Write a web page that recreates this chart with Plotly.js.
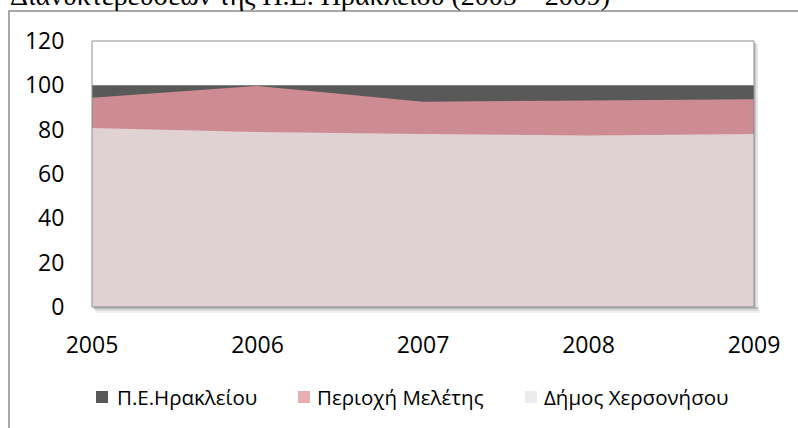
<!DOCTYPE html>
<html>
<head>
<meta charset="utf-8">
<script src="https://cdn.plot.ly/plotly-3.0.1.min.js"></script>
<style>html,body{margin:0;padding:0;background:#fff;}#chart{width:798px;height:428px;}</style>
</head>
<body>
<div id="chart"></div>
<script>
const years = [2005, 2006, 2007, 2008, 2009];
const peHrakleiou = [100, 100, 100, 100, 100];
const perioxiMeletis = [94.4, 99.7, 92.6, 93.2, 93.7];
const dimosXersonisou = [80.7, 78.9, 78.0, 77.4, 78.0];
const seriesNames = ['Π.Ε.Ηρακλείου', 'Περιοχή Μελέτης', 'Δήμος Χερσονήσου'];
const areaColors = ['#595959', '#cc8c92', '#e0d1d2'];
const legendColors = ['#595959', '#e6adb3', '#ececec'];
const yTicks = [0, 20, 40, 60, 80, 100, 120];
const titleText = 'Διανυκτερεύσεων της Π.Ε. Ηρακλείου (2005 – 2009)';

const seriesValues = [peHrakleiou, perioxiMeletis, dimosXersonisou];
const traces = [];
seriesValues.forEach((vals, i) => {
  traces.push({
    x: years, y: vals, type: 'scatter', mode: 'none', name: seriesNames[i],
    fill: 'tozeroy', fillcolor: areaColors[i],
    showlegend: false, hoverinfo: 'skip'
  });
});

const font = "'Open Sans', 'Noto Sans', sans-serif";
const L = 92, T = 41, W = 662, H = 266;
const px = v => (v - L) / W;          // absolute pixel x -> paper
const py = v => (T + H - v) / H;      // absolute pixel y -> paper
const dx = v => v / W, dy = v => v / H;

// custom legend placement (square left edges and text left edges, in px)
const legSquareX = [96, 298, 525];
const legTextX = [116, 316, 543];
const legY = 397;

const shapes = [
  {type: 'rect', xref: 'paper', yref: 'paper', x0: px(9), x1: 1.3, y0: py(11), y1: -0.7,
   line: {color: '#8c8c8c', width: 1.5}, fillcolor: 'rgba(0,0,0,0)', layer: 'below'},
  {type: 'rect', xref: 'paper', yref: 'paper', x0: dx(2), x1: 1 + dx(4), y0: 0, y1: -dy(2),
   line: {width: 0}, fillcolor: 'rgba(0,0,0,0.28)', layer: 'below'},
  {type: 'rect', xref: 'paper', yref: 'paper', x0: dx(3), x1: 1 + dx(5), y0: -dy(2), y1: -dy(4),
   line: {width: 0}, fillcolor: 'rgba(0,0,0,0.14)', layer: 'below'},
  {type: 'rect', xref: 'paper', yref: 'paper', x0: dx(4), x1: 1 + dx(6), y0: -dy(4), y1: -dy(6),
   line: {width: 0}, fillcolor: 'rgba(0,0,0,0.06)', layer: 'below'},
  {type: 'rect', xref: 'paper', yref: 'paper', x0: 1, x1: 1 + dx(2), y0: 1 - dy(2), y1: 0,
   line: {width: 0}, fillcolor: 'rgba(0,0,0,0.22)', layer: 'below'},
  {type: 'rect', xref: 'paper', yref: 'paper', x0: 1 + dx(2), x1: 1 + dx(4), y0: 1 - dy(3), y1: 0,
   line: {width: 0}, fillcolor: 'rgba(0,0,0,0.1)', layer: 'below'},
  {type: 'rect', xref: 'paper', yref: 'paper', x0: 0, x1: 1, y0: 0, y1: 1,
   line: {color: '#8c8c8c', width: 1}, fillcolor: 'rgba(0,0,0,0)', layer: 'above'}
];
const annotations = [
  {text: titleText, xref: 'paper', yref: 'paper', x: px(612), xanchor: 'right',
   y: py(13), yanchor: 'bottom', showarrow: false,
   font: {family: "'Liberation Serif', 'DejaVu Serif', serif", size: 28, color: '#000'}}
];
seriesNames.forEach((n, i) => {
  shapes.push({type: 'rect', xref: 'paper', yref: 'paper',
    x0: px(legSquareX[i]), x1: px(legSquareX[i] + 12), y0: py(legY - 6), y1: py(legY + 6),
    line: {width: 0}, fillcolor: legendColors[i], layer: 'above'});
  annotations.push({text: n, xref: 'paper', yref: 'paper', x: px(legTextX[i]), xanchor: 'left',
    y: py(legY), yanchor: 'middle', showarrow: false, xshift: -1,
    font: {family: font, size: 20.5, color: '#000'}});
});

const layout = {
  width: 798, height: 428,
  margin: {l: L, r: 798 - L - W, t: T, b: 428 - T - H},
  paper_bgcolor: '#ffffff', plot_bgcolor: '#ffffff',
  font: {family: font, color: '#000000'},
  showlegend: false,
  xaxis: {
    range: [2005, 2009], tickvals: years, ticktext: years.map(String),
    showgrid: false, zeroline: false, showline: false,
    ticks: 'outside', ticklen: 17, tickcolor: 'rgba(0,0,0,0)',
    tickfont: {size: 23, family: font, color: '#000'}
  },
  yaxis: {
    range: [0, 120], tickvals: yTicks,
    showgrid: false, zeroline: false, showline: false,
    ticks: 'outside', ticklen: 22, tickcolor: 'rgba(0,0,0,0)',
    tickfont: {size: 23, family: font, color: '#000'}
  },
  shapes: shapes,
  annotations: annotations
};

Plotly.newPlot('chart', traces, layout, {staticPlot: true, displayModeBar: false});
</script>
</body>
</html>
